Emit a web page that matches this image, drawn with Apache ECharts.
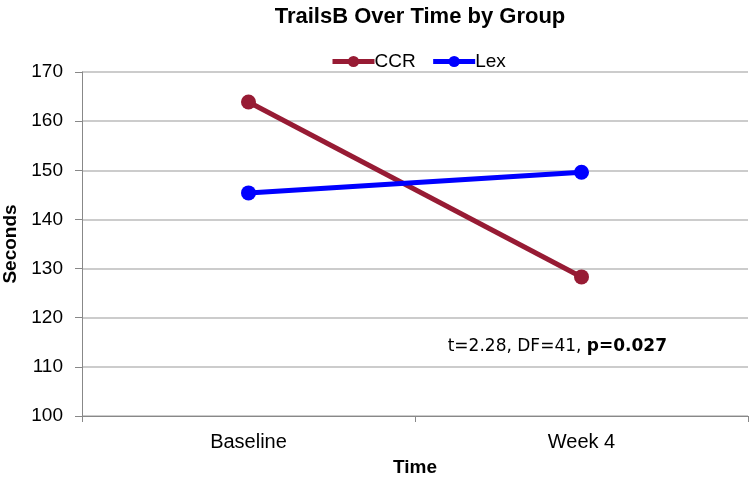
<!DOCTYPE html>
<html><head><meta charset="utf-8">
<script src="https://cdn.jsdelivr.net/npm/echarts@6/dist/echarts.min.js"></script>
<style>html,body{margin:0;padding:0;background:#fff}#c{width:750px;height:485px}</style>
</head><body><div id="c"></div>
<script>
const categories = ['Baseline', 'Week 4'];
const ccr = [163.9, 128.3];
const lex = [145.4, 149.6];
const yTicks = [100, 110, 120, 130, 140, 150, 160, 170];
const chart = echarts.init(document.getElementById('c'));
const font = 'Liberation Sans, Arial, sans-serif';
chart.setOption({
  animation: false,
  title: { text: 'TrailsB Over Time by Group', left: 415, textAlign: 'center', top: 1,
    textStyle: { fontFamily: font, fontSize: 22, fontWeight: 'bold', color: '#000' } },
  legend: { top: 52, left: 330, padding: 0, itemGap: 15, itemWidth: 42, itemHeight: 14,
    lineStyle: { width: 5 },
    textStyle: { fontFamily: font, fontSize: 19, color: '#000', padding: [0, 0, 0, -5] },
    data: ['CCR', 'Lex'] },
  grid: { left: 82, right: 2, top: 72, bottom: 69, containLabel: false, outerBoundsMode: 'none' },
  xAxis: { type: 'category', data: categories, boundaryGap: true,
    name: 'Time', nameLocation: 'middle', nameGap: 42,
    nameTextStyle: { fontFamily: font, fontSize: 19, fontWeight: 'bold', color: '#000' },
    axisLine: { lineStyle: { color: '#888', width: 1 } },
    axisTick: { show: true, length: 6, lineStyle: { color: '#888' } },
    axisLabel: { fontFamily: font, fontSize: 20, color: '#000', margin: 16 } },
  yAxis: { type: 'value', min: yTicks[0], max: yTicks[yTicks.length - 1], interval: 10,
    name: 'Seconds', nameLocation: 'middle', nameGap: 60,
    nameTextStyle: { fontFamily: font, fontSize: 19, fontWeight: 'bold', color: '#000' },
    axisLine: { show: true, lineStyle: { color: '#888', width: 1 } },
    axisTick: { show: true, length: 7, lineStyle: { color: '#888' } },
    splitLine: { lineStyle: { color: '#bbb', width: 1.5 } },
    axisLabel: { fontFamily: font, fontSize: 19, color: '#000', margin: 19 } },
  series: [
    { name: 'CCR', type: 'line', data: ccr, symbol: 'circle', symbolSize: 15,
      lineStyle: { color: '#971b34', width: 5 }, itemStyle: { color: '#971b34' } },
    { name: 'Lex', type: 'line', data: lex, symbol: 'circle', symbolSize: 15,
      lineStyle: { color: '#0000ff', width: 5 }, itemStyle: { color: '#0000ff' } }
  ],
  graphic: [{ type: 'text', x: 667, y: 347,
    style: { text: '{a|t=2.28, DF=41, }{b|p=0.027}', align: 'right', verticalAlign: 'middle',
      rich: { a: { fontFamily: 'DejaVu Sans', fontSize: 17, fill: '#000' },
              b: { fontFamily: 'DejaVu Sans', fontSize: 17, fontWeight: 'bold', fill: '#000' } } } }]
});
</script></body></html>
